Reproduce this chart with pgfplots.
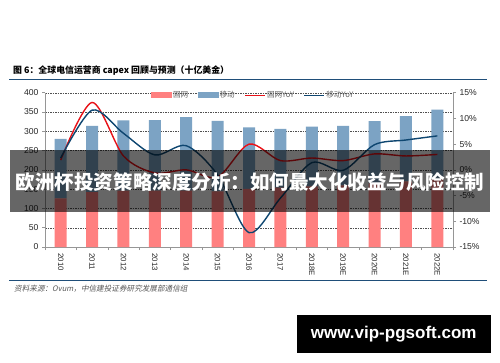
\documentclass[border=0pt]{standalone}
\usepackage{fontspec}
\setmainfont{Liberation Sans}
\newfontfamily\cjk{Noto Sans CJK SC}
\newfontfamily\cjksl{Noto Sans CJK SC}[FakeSlant=0.2]
\usepackage{pgfplots}
\pgfplotsset{compat=1.18}
\definecolor{pinkbar}{RGB}{255,128,128}
\definecolor{bluebar}{RGB}{124,163,196}
\definecolor{redline}{RGB}{232,18,24}
\definecolor{blueline}{RGB}{14,70,112}
\definecolor{rulec}{RGB}{31,78,121}
\definecolor{gridc}{RGB}{80,80,80}
\definecolor{axc}{RGB}{150,150,150}
\definecolor{labc}{RGB}{40,40,40}
\begin{document}
\begin{tikzpicture}[x=1pt,y=1pt]
\fill[white] (0,0) rectangle (500,362);
\useasboundingbox (0,0) rectangle (500,362);
% title
\node[anchor=west, inner sep=0] at (13,291.3) {\cjk\bfseries\fontsize{8.9}{10}\selectfont 图 6：全球电信运营商 capex 回顾与预测（十亿美金）};
\draw[rulec, line width=1.1pt] (9,282.5) -- (487,282.5);

\begin{axis}[
  at={(45pt,115pt)}, anchor=south west, scale only axis,
  width=408pt, height=154.3pt,
  xmin=-0.5, xmax=12.5, ymin=0, ymax=400,
  ybar stacked, bar width=12pt,
  axis x line*=bottom, axis y line*=left,
  axis line style={draw=axc, line width=0.6pt},
  xtick={0,...,12},
  xticklabels={2010,2011,2012,2013,2014,2015,2016,2017,2018E,2019E,2020E,2021E,2022E},
  x tick label style={rotate=-90, anchor=west, font=\fontsize{7.8}{8}\selectfont, text=labc},
  every major x tick/.style={draw=none},
  minor xtick={-0.5,0.5,...,12.5},
  tick align=outside,
  tick style={draw=axc, line width=0.5pt},
  major tick length=3pt, minor tick length=3pt,
  ytick={0,50,...,400},
  y tick label style={font=\fontsize{8.6}{9}\selectfont, text=labc},
  ymajorgrids, grid style={dash pattern=on 1.5pt off 1pt, draw=gridc, line width=0.4pt},
  /pgf/number format/assume math mode=true,
]
\addplot[fill=pinkbar, draw=none] coordinates {(0,126) (1,142) (2,146) (3,146) (4,146) (5,144) (6,151) (7,154) (8,157) (9,160) (10,165) (11,170) (12,175)};
\addplot[fill=bluebar, draw=none] coordinates {(0,154) (1,172) (2,182) (3,183) (4,191) (5,183) (6,159) (7,152) (8,155) (9,154) (10,161) (11,169) (12,181)};
\end{axis}

\begin{axis}[
  at={(45pt,115pt)}, anchor=south west, scale only axis,
  width=408pt, height=154.3pt,
  xmin=-0.5, xmax=12.5, ymin=-15, ymax=15,
  axis x line=none, axis y line*=right,
  axis line style={draw=axc, line width=0.6pt},
  tick align=outside,
  tick style={draw=axc, line width=0.5pt}, major tick length=3pt,
  ytick={-15,-10,-5,0,5,10,15},
  yticklabels={-15\%,-10\%,-5\%,0\%,5\%,10\%,15\%},
  y tick label style={font=\fontsize{8.6}{9}\selectfont, text=labc},
  legend columns=4,
  legend style={at={(0.51,0.984)}, anchor=center, draw=none, fill=none,
    font=\cjk\fontsize{7.6}{8}\selectfont, text=gray!75!black,
    nodes={inner sep=1.5pt},
    /tikz/every even column/.append style={column sep=8pt}},
]
\addlegendimage{legend image code/.code={\fill[pinkbar] (0pt,-2.5pt) rectangle (20pt,2.5pt);}}
\addlegendentry{固网}
\addlegendimage{legend image code/.code={\fill[bluebar] (0pt,-2.5pt) rectangle (20pt,2.5pt);}}
\addlegendentry{移动}
\addplot[redline, line width=1.4pt, smooth, tension=0.5, legend image code/.code={\draw[redline, line width=1.2pt] (0pt,0pt) -- (20pt,0pt);}] coordinates {(0,1.9) (1,13.1) (2,2.7) (3,-0.6) (4,0) (5,-1.4) (6,5.0) (7,1.8) (8,2.3) (9,1.8) (10,3.1) (11,2.7) (12,3.0)};
\addlegendentry{固网YoY}
\addplot[blueline, line width=1.4pt, smooth, tension=0.5, legend image code/.code={\draw[blueline, line width=1.2pt] (0pt,0pt) -- (20pt,0pt);}] coordinates {(0,2.3) (1,11.6) (2,7.1) (3,2.9) (4,4.7) (5,-1.0) (6,-12.2) (7,-5.5) (8,1.4) (9,-0.1) (10,4.9) (11,5.8) (12,6.6)};
\addlegendentry{移动YoY}
\end{axis}

% bottom rule and source
\draw[rulec, line width=1pt] (9,82) -- (487,82);
\node[anchor=west, inner sep=0, text=gray!70!black] at (14,73) {\cjksl\fontsize{7.6}{8}\selectfont 资料来源：Ovum，中信建投证券研究发展部通信组};

% overlay banner
\fill[black, fill opacity=0.6] (10,150) rectangle (490,212);
\node[text=white, inner sep=0] at (250,180) {\cjk\bfseries\fontsize{19.5}{21}\selectfont 欧洲杯投资策略深度分析：如何最大化收益与风险控制};

% watermark
\fill[black] (297,9.3) rectangle (490.5,47);
\node[text=white, inner sep=0] at (393.7,28) {\bfseries\fontsize{17}{18}\selectfont www.vip-pgsoft.com};
\end{tikzpicture}
\end{document}
